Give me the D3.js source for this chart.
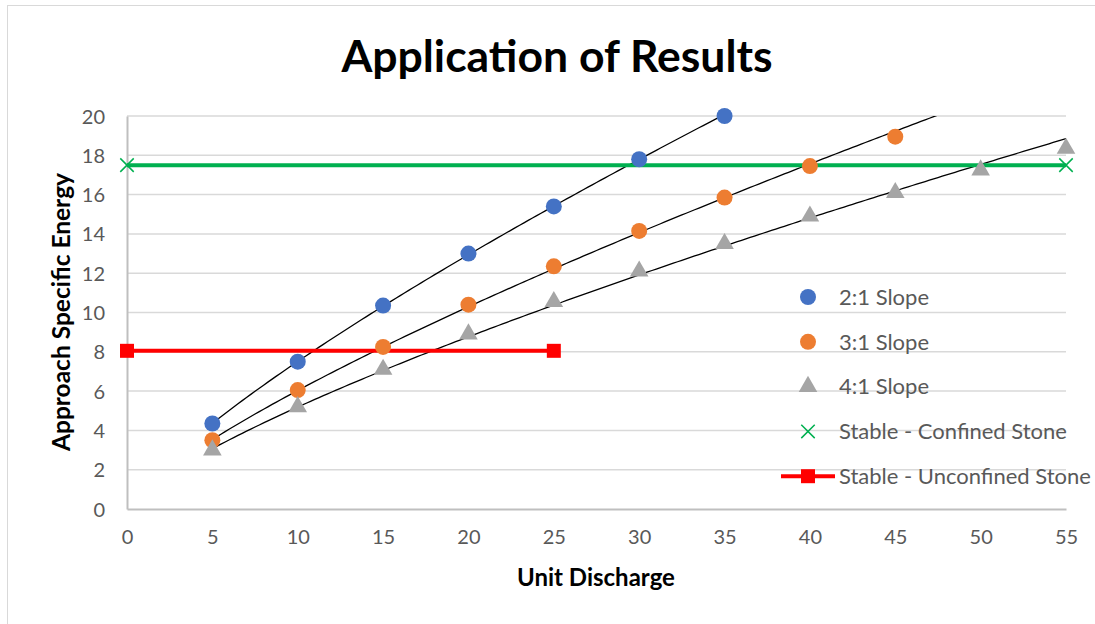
<!DOCTYPE html>
<html>
<head>
<meta charset="utf-8">
<script src="https://cdn.jsdelivr.net/npm/d3@7"></script>
<style>
  body { margin: 0; background: #fff; }
  svg text { font-family: Lato, "Open Sans", sans-serif; }
</style>
</head>
<body>
<svg id="chart" width="1095" height="624"></svg>
<script>
// discharge values used by every slope series
const discharge = [5, 10, 15, 20, 25, 30, 35, 40, 45, 50, 55];
const slope21 = [4.35, 7.5, 10.35, 13.0, 15.4, 17.8, 20.0];
const slope31 = [3.5, 6.05, 8.25, 10.4, 12.35, 14.15, 15.85, 17.45, 18.95];
const slope41 = [3.0, 5.2, 7.1, 8.9, 10.55, 12.1, 13.5, 14.9, 16.1, 17.25, 18.35];
const confinedX = [0, 55], confinedY = [17.5, 17.5];
const unconfinedX = [0, 25], unconfinedY = [8.05, 8.05];
const xTicks = [0, 5, 10, 15, 20, 25, 30, 35, 40, 45, 50, 55];
const yTicks = [0, 2, 4, 6, 8, 10, 12, 14, 16, 18, 20];
const legendLabels = ["2:1 Slope", "3:1 Slope", "4:1 Slope",
  "Stable - Confined Stone", "Stable - Unconfined Stone"];

const width = 1095, height = 624;
const margin = { left: 127, right: 29, top: 116, bottom: 115 };
const tickColor = "#595959";

const svg = d3.select("#chart");

// chart frame (only top and left edges are inside the picture)
svg.append("rect")
  .attr("x", 7.5).attr("y", 5.5)
  .attr("width", width + 20).attr("height", height + 20)
  .attr("fill", "none").attr("stroke", "#d9d9d9");

const x = d3.scaleLinear().domain([0, 55]).range([margin.left, width - margin.right]);
const y = d3.scaleLinear().domain([0, 20]).range([height - margin.bottom, margin.top]);

// gridlines
svg.append("g")
  .selectAll("line")
  .data(yTicks.filter(d => d > 0))
  .enter().append("line")
  .attr("x1", x(0)).attr("x2", x(55))
  .attr("y1", d => y(d)).attr("y2", d => y(d))
  .attr("stroke", "#d9d9d9").attr("stroke-width", 1.5);

// axes
const xAxis = svg.append("g")
  .attr("transform", `translate(0,${y(0)})`)
  .call(d3.axisBottom(x).tickValues(xTicks).tickSize(0).tickPadding(21));
const yAxis = svg.append("g")
  .attr("transform", `translate(${x(0)},0)`)
  .call(d3.axisLeft(y).tickValues(yTicks).tickSize(0).tickPadding(22));

[xAxis, yAxis].forEach(g => {
  g.select(".domain").attr("stroke", "#bfbfbf").attr("stroke-width", 2);
  g.selectAll("text").attr("font-size", 20).attr("fill", tickColor);
});
yAxis.selectAll("text").attr("dy", "0.35em");

// clip region for the trendlines
svg.append("clipPath").attr("id", "plot-clip")
  .append("rect")
  .attr("x", x(0)).attr("y", y(20))
  .attr("width", x(55) - x(0)).attr("height", y(0) - y(20));

// power trendline y = a * x^b, fitted in log space like Excel does
function powerFit(xs, ys) {
  const lx = xs.map(Math.log), ly = ys.map(Math.log);
  const mx = d3.mean(lx), my = d3.mean(ly);
  const b = d3.sum(lx, (v, i) => (v - mx) * (ly[i] - my)) / d3.sum(lx, v => (v - mx) * (v - mx));
  const a = Math.exp(my - b * mx);
  return v => a * Math.pow(v, b);
}

const line = d3.line().x(d => x(d[0])).y(d => y(d[1]));

const trends = svg.append("g").attr("clip-path", "url(#plot-clip)");
[slope21, slope31, slope41].forEach(ys => {
  const xs = discharge.slice(0, ys.length);
  const f = powerFit(xs, ys);
  const pts = d3.range(xs[0], d3.max(xs) + 5.01, 0.25).map(v => [v, f(v)]);
  trends.append("path")
    .attr("d", line(pts))
    .attr("fill", "none")
    .attr("stroke", "#000").attr("stroke-width", 1.3);
});

// stable lines
function drawStable(xs, ys, color) {
  svg.append("path")
    .attr("d", line(xs.map((v, i) => [v, ys[i]])))
    .attr("fill", "none")
    .attr("stroke", color).attr("stroke-width", 4);
}
drawStable(confinedX, confinedY, "#00b050");
drawStable(unconfinedX, unconfinedY, "#ff0000");

const crossSym = d3.symbol().type(d3.symbolX).size(120);
const squareSym = d3.symbol().type(d3.symbolSquare).size(196);
const triSym = d3.symbol().type(d3.symbolTriangle).size(150);

svg.append("g").selectAll("path")
  .data(confinedX.map((v, i) => [v, confinedY[i]]))
  .enter().append("path")
  .attr("transform", d => `translate(${x(d[0])},${y(d[1])})`)
  .attr("d", crossSym)
  .attr("fill", "none").attr("stroke", "#00b050").attr("stroke-width", 1.5);

svg.append("g").selectAll("path")
  .data(unconfinedX.map((v, i) => [v, unconfinedY[i]]))
  .enter().append("path")
  .attr("transform", d => `translate(${x(d[0])},${y(d[1])})`)
  .attr("d", squareSym)
  .attr("fill", "#ff0000");

// slope markers
function drawDots(ys, color) {
  svg.append("g").selectAll("circle")
    .data(ys)
    .enter().append("circle")
    .attr("cx", (d, i) => x(discharge[i]))
    .attr("cy", d => y(d))
    .attr("r", 8)
    .attr("fill", color);
}
drawDots(slope21, "#4472c4");
drawDots(slope31, "#ed7d31");

svg.append("g").selectAll("path")
  .data(slope41)
  .enter().append("path")
  .attr("transform", (d, i) => `translate(${x(discharge[i])},${y(d)})`)
  .attr("d", triSym)
  .attr("fill", "#a5a5a5");

// title and axis titles
svg.append("text")
  .attr("x", 557).attr("y", 72)
  .attr("text-anchor", "middle")
  .attr("font-size", 44.5).attr("font-weight", "bold")
  .text("Application of Results");

svg.append("text")
  .attr("x", 596).attr("y", 586)
  .attr("text-anchor", "middle")
  .attr("font-size", 24).attr("font-weight", "bold")
  .text("Unit Discharge");

svg.append("text")
  .attr("transform", "translate(70,312) rotate(-90)")
  .attr("text-anchor", "middle")
  .attr("font-size", 24.5).attr("font-weight", "bold")
  .text("Approach Specific Energy");

// legend
const legend = svg.append("g");
const rowY = i => 297 + i * 44.8;
legendLabels.forEach((label, i) => {
  const ly = rowY(i);
  if (i < 2) {
    legend.append("circle").attr("cx", 808).attr("cy", ly).attr("r", 8)
      .attr("fill", i === 0 ? "#4472c4" : "#ed7d31");
  } else if (i === 2) {
    legend.append("path").attr("transform", `translate(808,${ly})`)
      .attr("d", triSym).attr("fill", "#a5a5a5");
  } else if (i === 3) {
    legend.append("path").attr("transform", `translate(808,${ly})`)
      .attr("d", crossSym).attr("fill", "none")
      .attr("stroke", "#00b050").attr("stroke-width", 1.5);
  } else {
    legend.append("line").attr("x1", 781).attr("x2", 835)
      .attr("y1", ly).attr("y2", ly)
      .attr("stroke", "#ff0000").attr("stroke-width", 4);
    legend.append("path").attr("transform", `translate(808,${ly})`)
      .attr("d", squareSym).attr("fill", "#ff0000");
  }
  legend.append("text")
    .attr("x", 839).attr("y", ly).attr("dy", "0.35em")
    .attr("font-size", 22).attr("fill", tickColor)
    .text(label);
});
</script>
</body>
</html>
